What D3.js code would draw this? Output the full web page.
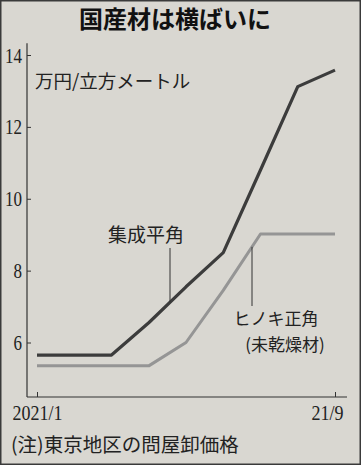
<!DOCTYPE html>
<html>
<head>
<meta charset="utf-8">
<script src="https://cdn.jsdelivr.net/npm/d3@7"></script>
<style>
  html, body { margin: 0; padding: 0; background: #d9d7d1; }
  svg { display: block; }
  .jp { font-family: "Noto Sans CJK JP", "Noto Sans", sans-serif; fill: #222; }
  .num { font-family: "Liberation Serif", "DejaVu Serif", serif; fill: #222; }
</style>
</head>
<body>
<svg id="chart" width="361" height="465"></svg>
<script>
// Data (monthly, 2021/1 .. 2021/9), 万円/立方メートル
const months = ['1', '2', '3', '4', '5', '6', '7', '8', '9'];
const shuseiHirakaku = [5.65, 5.65, 5.65, 6.55, 7.55, 8.5, 10.8, 13.12, 13.58];
const hinokiShokaku = [5.35, 5.35, 5.35, 5.35, 6.0, 7.45, 9.02, 9.02, 9.02];
const yTicks = [6, 8, 10, 12, 14];
const xTickLabels = { '1': '2021/1', '9': '21/9' };

const svg = d3.select('#chart');
const W = 361, H = 465;

svg.append('rect')
    .attr('x', 0.75).attr('y', 0.75)
    .attr('width', W - 1.5).attr('height', H - 1.5)
    .attr('fill', '#d9d7d1')
    .attr('stroke', '#3a3a3a')
    .attr('stroke-width', 1.5);

const x = d3.scalePoint().domain(months).range([37, 335]);
const y = d3.scaleLinear().domain([6, 14]).range([342.5, 55]);

const axisLeftX = 27, axisBottomY = 397;

// Title
svg.append('text')
    .attr('class', 'jp')
    .attr('x', 175).attr('y', 17)
    .attr('text-anchor', 'middle')
    .attr('dominant-baseline', 'central')
    .style('font-size', '24px')
    .style('font-weight', 700)
    .style('fill', '#111')
    .text('国産材は横ばいに');

// Axes lines
svg.append('line')
    .attr('x1', axisLeftX).attr('x2', axisLeftX)
    .attr('y1', y(14.33)).attr('y2', axisBottomY)
    .attr('stroke', '#333').attr('stroke-width', 1.2);
svg.append('line')
    .attr('x1', axisLeftX).attr('x2', 347)
    .attr('y1', axisBottomY).attr('y2', axisBottomY)
    .attr('stroke', '#333').attr('stroke-width', 1.2);

// Y axis ticks (inward) + labels
const yAxis = d3.axisRight(y).tickValues(yTicks).tickSize(4).tickFormat(d3.format('d'));
const gy = svg.append('g').attr('transform', `translate(${axisLeftX},0)`).call(yAxis);
gy.select('.domain').remove();
gy.selectAll('.tick line').attr('stroke', '#333').attr('stroke-width', 1);
gy.selectAll('.tick text')
    .attr('class', 'num')
    .attr('text-anchor', 'end')
    .attr('dy', '0.35em')
    .attr('x', -5 / 0.85)
    .attr('transform', 'scale(0.85,1)')
    .style('font-size', '20px');

// X axis ticks (inward) + labels
const xAxis = d3.axisTop(x).tickValues(['1', '9']).tickSize(5).tickFormat(d => xTickLabels[d]);
const gx = svg.append('g').attr('transform', `translate(0,${axisBottomY})`).call(xAxis);
gx.select('.domain').remove();
gx.selectAll('.tick line').attr('stroke', '#333').attr('stroke-width', 1);
gx.selectAll('.tick text')
    .attr('class', 'num')
    .attr('y', 16)
    .attr('dy', '0.35em')
    .attr('text-anchor', (d, i) => i === 0 ? 'middle' : 'end')
    .attr('x', (d, i) => i === 0 ? 0 : 8 / 0.9)
    .attr('transform', 'scale(0.9,1)')
    .style('font-size', '20px');

// Unit label
svg.append('text')
    .attr('class', 'jp')
    .attr('x', 35).attr('y', 80)
    .attr('dominant-baseline', 'central')
    .style('font-size', '18.5px')
    .text('万円/立方メートル');

// Lines
const line = d3.line()
    .x((d, i) => x(months[i]))
    .y(d => y(d));

svg.append('path')
    .datum(hinokiShokaku)
    .attr('d', line)
    .attr('fill', 'none')
    .attr('stroke', '#959595')
    .attr('stroke-width', 3)
    .attr('stroke-linejoin', 'round');

svg.append('path')
    .datum(shuseiHirakaku)
    .attr('d', line)
    .attr('fill', 'none')
    .attr('stroke', '#3c3c3c')
    .attr('stroke-width', 3.2)
    .attr('stroke-linejoin', 'round');

// Value of a series at a pixel x (for leader lines)
function valueAt(series, px) {
  const xs = months.map(m => x(m));
  for (let i = 0; i < xs.length - 1; i++) {
    if (px >= xs[i] && px <= xs[i + 1]) {
      const t = (px - xs[i]) / (xs[i + 1] - xs[i]);
      return series[i] + t * (series[i + 1] - series[i]);
    }
  }
  return series[series.length - 1];
}

// Leader: 集成平角
const l1x = 170;
svg.append('line')
    .attr('x1', l1x).attr('x2', l1x)
    .attr('y1', 248).attr('y2', y(valueAt(shuseiHirakaku, l1x)))
    .attr('stroke', '#333').attr('stroke-width', 1);
svg.append('text')
    .attr('class', 'jp')
    .attr('x', 146).attr('y', 233)
    .attr('text-anchor', 'middle')
    .attr('dominant-baseline', 'central')
    .style('font-size', '19px')
    .text('集成平角');

// Leader: ヒノキ正角
const l2x = 252;
svg.append('line')
    .attr('x1', l2x).attr('x2', l2x)
    .attr('y1', y(valueAt(hinokiShokaku, l2x))).attr('y2', 306)
    .attr('stroke', '#333').attr('stroke-width', 1);
svg.append('text')
    .attr('class', 'jp')
    .attr('x', 276).attr('y', 317)
    .attr('text-anchor', 'middle')
    .attr('dominant-baseline', 'central')
    .style('font-size', '17px')
    .text('ヒノキ正角');
svg.append('text')
    .attr('class', 'jp')
    .attr('x', 285).attr('y', 343)
    .attr('text-anchor', 'middle')
    .attr('dominant-baseline', 'central')
    .style('font-size', '17px')
    .text('(未乾燥材)');

// Footnote
svg.append('text')
    .attr('class', 'jp')
    .attr('x', 11).attr('y', 443)
    .attr('dominant-baseline', 'central')
    .style('font-size', '19.5px')
    .text('(注)東京地区の問屋卸価格');
</script>
</body>
</html>
